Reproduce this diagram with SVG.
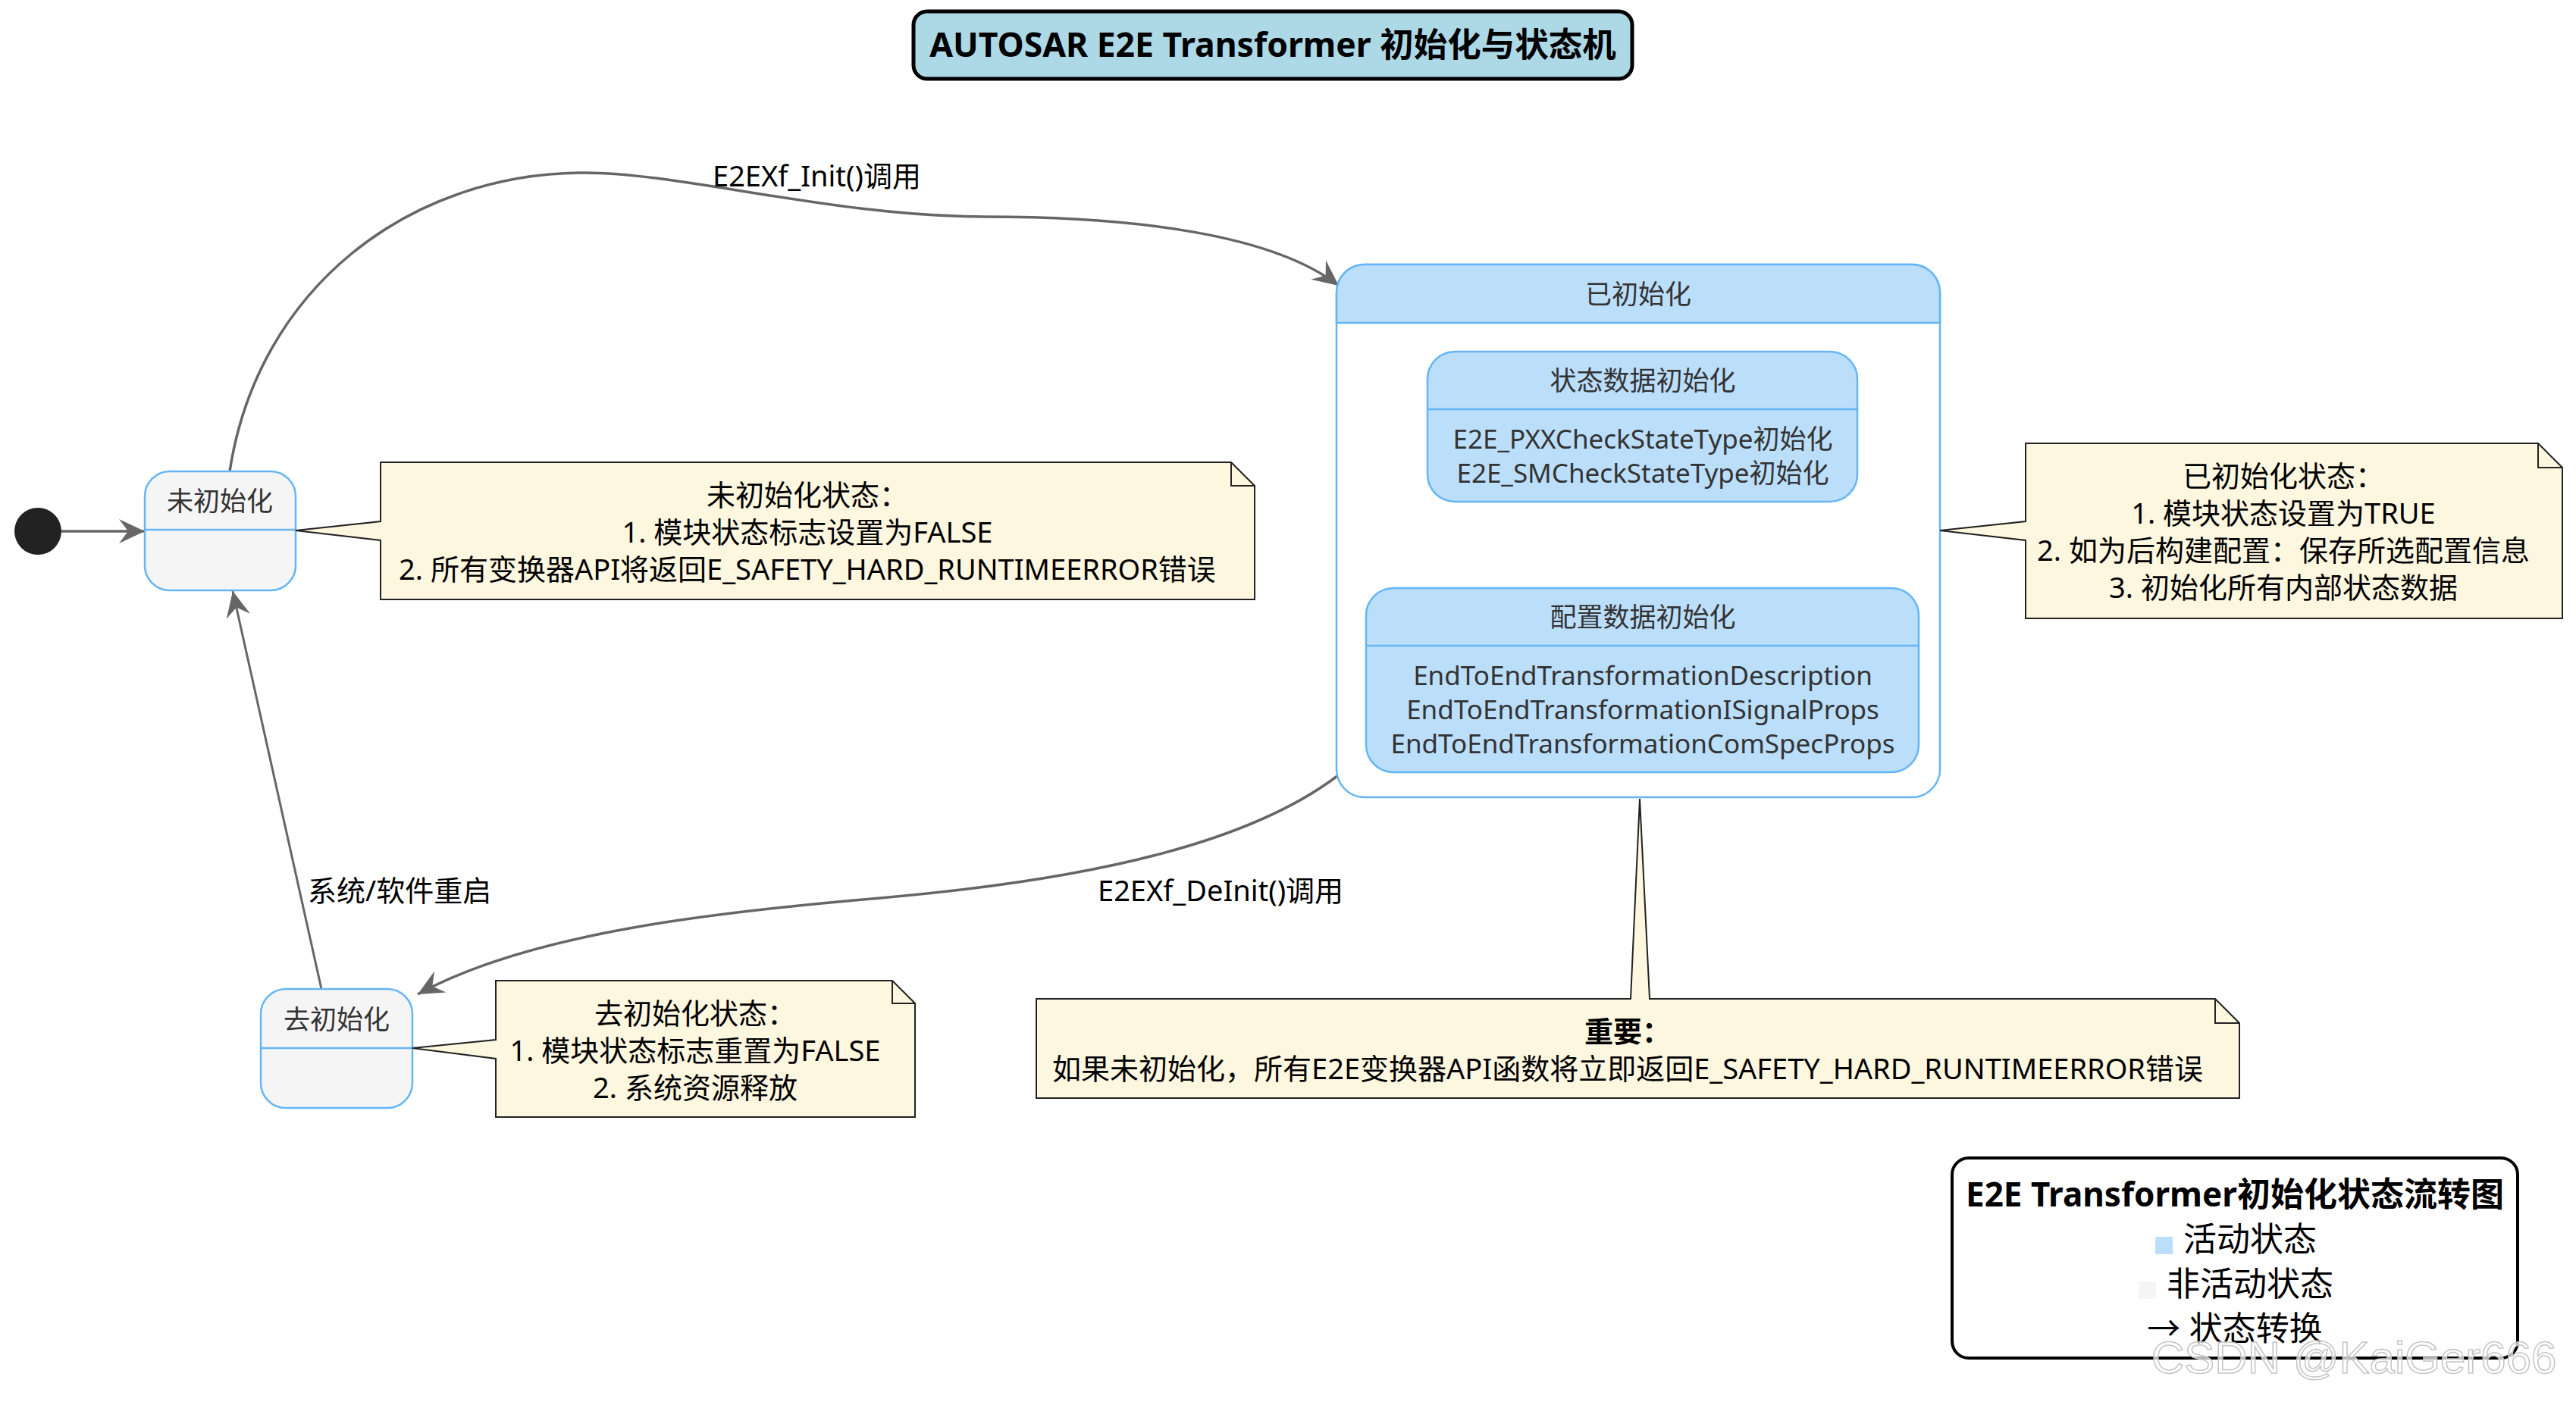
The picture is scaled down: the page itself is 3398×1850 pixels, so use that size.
<svg xmlns="http://www.w3.org/2000/svg" width="3398" height="1850" viewBox="0 0 3398 1850">
<style>
text{font-family:"Noto Sans","Noto Sans CJK SC",sans-serif}
.st{font-size:35px;fill:#333;text-anchor:middle}
.nt{font-size:38px;fill:#000;text-anchor:middle}
.lbl{font-size:38px;fill:#000}
.ttl{font-size:44px;font-weight:bold;fill:#000;text-anchor:middle}
.act{fill:#BBDEFB;stroke:#64B5F6;stroke-width:2.5}
.ina{fill:#F5F5F5;stroke:#64B5F6;stroke-width:2.5}
.div{stroke:#64B5F6;stroke-width:2.5;fill:none}
.note{fill:#FEF7E0;stroke:#222;stroke-width:2}
.fold{fill:none;stroke:#222;stroke-width:2}
.edge{fill:none;stroke:#666;stroke-width:3.5}
</style>
<defs>
<marker id="ah" markerUnits="userSpaceOnUse" orient="auto" overflow="visible" markerWidth="1" markerHeight="1" refX="0" refY="0">
<path d="M0,0 L-34,-16 L-22,0 L-34,16 Z" fill="#666"/>
</marker>
</defs>
<rect width="3398" height="1850" fill="#fff"/>

<g id="title">
<rect x="1205" y="15" width="948" height="89" rx="18" fill="#ADD8E6" stroke="#000" stroke-width="5"/>
<text class="ttl" x="1679" y="75" style="font-size:44.5px">AUTOSAR E2E Transformer 初始化与状态机</text>
</g>

<g id="connectors">
<path class="edge" d="M81,701 L191,701" marker-end="url(#ah)"/>
<path class="edge" d="M303,622 C340,380 540,228 771,228 C900,228 1100,286 1300,286 C1500,286 1680,310 1766,377" marker-end="url(#ah)"/>
<path class="edge" d="M1764,1024 C1650,1110 1450,1160 1161,1185 C950,1203 700,1230 551,1312" marker-end="url(#ah)"/>
<path class="edge" style="stroke-width:3" d="M424,1305 L307,780" marker-end="url(#ah)"/>
<path class="edge" d="M2167,662 L2167,776" marker-end="url(#ah)"/>
<text class="lbl" x="940" y="246">E2EXf_Init()调用</text>
<text class="lbl" x="1448" y="1189">E2EXf_DeInit()调用</text>
<text class="lbl" x="406" y="1189">系统/软件重启</text>
</g>

<g id="initial">
<circle cx="50" cy="701" r="31" fill="#222"/>
</g>

<g id="uninit">
<rect class="ina" x="191" y="622" width="199" height="157" rx="33"/>
<line class="div" x1="191" y1="699" x2="390" y2="699"/>
<text class="st" x="290" y="674">未初始化</text>
</g>

<g id="deinit">
<rect class="ina" x="344" y="1305" width="200" height="157" rx="33"/>
<line class="div" x1="344" y1="1383" x2="544" y2="1383"/>
<text class="st" x="444" y="1358">去初始化</text>
</g>

<g id="initialized">
<rect x="1763" y="349" width="796" height="703" rx="37" fill="#fff" stroke="#64B5F6" stroke-width="2.5"/>
<path d="M1763,426 L1763,386 A37,37 0 0 1 1800,349 L2522,349 A37,37 0 0 1 2559,386 L2559,426 Z" fill="#BBDEFB" stroke="#64B5F6" stroke-width="2.5"/>
<text class="st" x="2161" y="401">已初始化</text>
</g>

<g id="statedata">
<rect class="act" x="1883" y="464" width="567" height="198" rx="36"/>
<line class="div" x1="1883" y1="540" x2="2450" y2="540"/>
<text class="st" x="2167" y="515">状态数据初始化</text>
<text class="st" x="2167" y="592">E2E_PXXCheckStateType初始化</text>
<text class="st" x="2167" y="637">E2E_SMCheckStateType初始化</text>
</g>

<g id="configdata">
<rect class="act" x="1802" y="776" width="729" height="243" rx="36"/>
<line class="div" x1="1802" y1="852" x2="2531" y2="852"/>
<text class="st" x="2167" y="827">配置数据初始化</text>
<text class="st" x="2167" y="904">EndToEndTransformationDescription</text>
<text class="st" x="2167" y="949">EndToEndTransformationISignalProps</text>
<text class="st" x="2167" y="994">EndToEndTransformationComSpecProps</text>
</g>

<g id="note-uninit">
<path class="note" d="M502,610 L1624,610 L1655,641 L1655,791 L502,791 L502,713 L390,700 L502,688 Z"/>
<path class="fold" d="M1624,610 L1624,641 L1655,641"/>
<text class="nt" x="1065" y="667">未初始化状态：</text>
<text class="nt" x="1065" y="716">1. 模块状态标志设置为FALSE</text>
<text class="nt" x="1065" y="765">2. 所有变换器API将返回E_SAFETY_HARD_RUNTIMEERROR错误</text>
</g>

<g id="note-init">
<path class="note" d="M2672,585 L3348,585 L3380,617 L3380,816 L2672,816 L2672,713 L2559,700 L2672,688 Z"/>
<path class="fold" d="M3348,585 L3348,617 L3380,617"/>
<text class="nt" x="3012" y="642">已初始化状态：</text>
<text class="nt" x="3012" y="691">1. 模块状态设置为TRUE</text>
<text class="nt" x="3012" y="740">2. 如为后构建配置：保存所选配置信息</text>
<text class="nt" x="3012" y="789">3. 初始化所有内部状态数据</text>
</g>

<g id="note-deinit">
<path class="note" d="M654,1294 L1177,1294 L1207,1324 L1207,1474 L654,1474 L654,1397 L544,1383 L654,1372 Z"/>
<path class="fold" d="M1177,1294 L1177,1324 L1207,1324"/>
<text class="nt" x="917" y="1351">去初始化状态：</text>
<text class="nt" x="917" y="1400">1. 模块状态标志重置为FALSE</text>
<text class="nt" x="917" y="1449">2. 系统资源释放</text>
</g>

<g id="note-important">
<path class="note" d="M1367,1318 L2151,1318 L2163,1054 L2176,1318 L2922,1318 L2954,1350 L2954,1449 L1367,1449 Z"/>
<path class="fold" d="M2922,1318 L2922,1350 L2954,1350"/>
<text class="nt" x="2147" y="1375" style="font-weight:bold">重要：</text>
<text class="nt" x="2147" y="1424">如果未初始化，所有E2E变换器API函数将立即返回E_SAFETY_HARD_RUNTIMEERROR错误</text>
</g>

<g id="legend">
<rect x="2575" y="1528" width="746" height="264" rx="22" fill="#fff" stroke="#000" stroke-width="4"/>
<text class="ttl" x="2948" y="1592">E2E Transformer初始化状态流转图</text>
<text class="ttl" x="2948" y="1651" style="font-weight:normal"><tspan fill="#BBDEFB" style="font-family:'DejaVu Sans',sans-serif;font-size:30px">■</tspan> 活动状态</text>
<text class="ttl" x="2948" y="1710" style="font-weight:normal"><tspan fill="#F5F5F5" style="font-family:'DejaVu Sans',sans-serif;font-size:30px">■</tspan> 非活动状态</text>
<text class="ttl" x="2948" y="1769" style="font-weight:normal">→ 状态转换</text>
</g>

<text x="2838" y="1812" style="font-family:'Liberation Sans',sans-serif;font-size:60px;fill:#fff;fill-opacity:0.7;stroke:#c4c4c4;stroke-width:1.5">CSDN @KaiGer666</text>
</svg>
